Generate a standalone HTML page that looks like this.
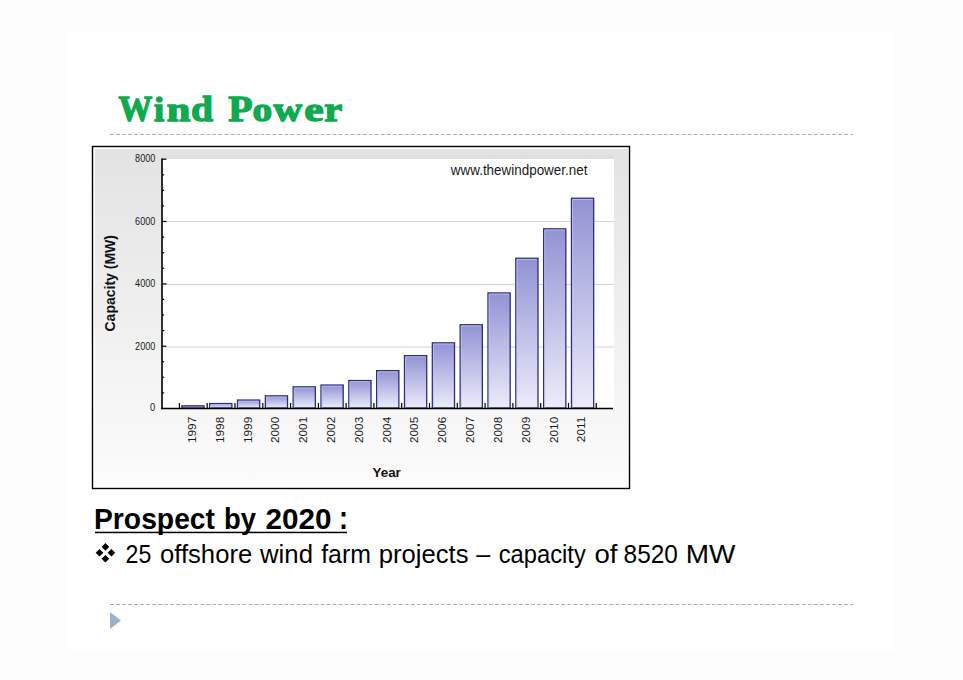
<!DOCTYPE html>
<html><head><meta charset="utf-8">
<style>
html,body{margin:0;padding:0}
body{width:963px;height:680px;background:#fdfdfd;position:relative;overflow:hidden;font-family:"Liberation Sans",sans-serif}
#slide{position:absolute;left:68px;top:31px;width:826px;height:620px;background:#fff}
svg{position:absolute;left:0;top:0}
</style></head>
<body>
<div id="slide"></div>
<svg width="963" height="680" viewBox="0 0 963 680">
<defs>
<linearGradient id="bg" x1="0" y1="0" x2="0" y2="1">
<stop offset="0" stop-color="#e3e3e3"/>
<stop offset="1" stop-color="#fcfcfc"/>
</linearGradient>
<linearGradient id="bar" x1="0" y1="0" x2="0" y2="1">
<stop offset="0" stop-color="#9292d4"/>
<stop offset="1" stop-color="#ececfb"/>
</linearGradient>
</defs>
<!-- title -->
<g font-family="Liberation Serif" font-weight="bold" font-size="36.5" fill="#0fa94f" stroke="#0fa94f" stroke-width="1.3">
<text x="118.4" y="121" font-size="36.5" textLength="33.8" lengthAdjust="spacingAndGlyphs">W</text>
<text x="153.9" y="121" font-size="34" textLength="10.2" lengthAdjust="spacingAndGlyphs">i</text>
<text x="166.7" y="121" font-size="34" textLength="23.6" lengthAdjust="spacingAndGlyphs">n</text>
<text x="191.0" y="121" font-size="36.5" textLength="22.1" lengthAdjust="spacingAndGlyphs">d</text>
<text x="228.3" y="121" font-size="36.5" textLength="24.3" lengthAdjust="spacingAndGlyphs">P</text>
<text x="252.5" y="121" font-size="34" textLength="19.7" lengthAdjust="spacingAndGlyphs">o</text>
<text x="273.6" y="121" font-size="34" textLength="28.7" lengthAdjust="spacingAndGlyphs">w</text>
<text x="304.2" y="121" font-size="34" textLength="19.4" lengthAdjust="spacingAndGlyphs">e</text>
<text x="324.2" y="121" font-size="34" textLength="18.0" lengthAdjust="spacingAndGlyphs">r</text>
</g>
<line x1="110" y1="134.5" x2="853" y2="134.5" stroke="#a5b1c4" stroke-width="1" stroke-dasharray="4 2.016"/>

<!-- chart -->
<rect x="92.5" y="146.5" width="537" height="342" fill="#fff" stroke="#000" stroke-width="1.4"/>
<rect x="95" y="149" width="533" height="338" fill="url(#bg)"/>
<rect x="163" y="155" width="451" height="4" fill="#d9d9d9" opacity="0.5"/>
<rect x="163" y="159" width="451" height="249" fill="#fff"/>
<g stroke="#d2d2d2" stroke-width="1">
<line x1="163" y1="221.5" x2="614" y2="221.5"/>
<line x1="163" y1="284.5" x2="614" y2="284.5"/>
<line x1="163" y1="347" x2="614" y2="347"/>
</g>
<g fill="url(#bar)" stroke="#2e2e78" stroke-width="1.3">
<rect x="181.85" y="405.85" width="22.2" height="2.15"/>
<rect x="209.68" y="403.55" width="22.2" height="4.45"/>
<rect x="237.51" y="400.05" width="22.2" height="7.95"/>
<rect x="265.34" y="395.85" width="22.2" height="12.15"/>
<rect x="293.17" y="386.85" width="22.2" height="21.15"/>
<rect x="321.00" y="385.05" width="22.2" height="22.95"/>
<rect x="348.83" y="380.55" width="22.2" height="27.45"/>
<rect x="376.66" y="370.65" width="22.2" height="37.35"/>
<rect x="404.49" y="355.65" width="22.2" height="52.35"/>
<rect x="432.32" y="342.85" width="22.2" height="65.15"/>
<rect x="460.15" y="324.75" width="22.2" height="83.25"/>
<rect x="487.98" y="292.95" width="22.2" height="115.05"/>
<rect x="515.81" y="258.25" width="22.2" height="149.75"/>
<rect x="543.64" y="228.85" width="22.2" height="179.15"/>
<rect x="571.47" y="198.25" width="22.2" height="209.75"/>
</g>
<g fill="none" stroke="#c4c4f4" stroke-width="1" opacity="0.8">
<path d="M210.83 408 V404.70 H230.73"/>
<path d="M238.66 408 V401.20 H258.56"/>
<path d="M266.49 408 V397.00 H286.39"/>
<path d="M294.32 408 V388.00 H314.22"/>
<path d="M322.15 408 V386.20 H342.05"/>
<path d="M349.98 408 V381.70 H369.88"/>
<path d="M377.81 408 V371.80 H397.71"/>
<path d="M405.64 408 V356.80 H425.54"/>
<path d="M433.47 408 V344.00 H453.37"/>
<path d="M461.30 408 V325.90 H481.20"/>
<path d="M489.13 408 V294.10 H509.03"/>
<path d="M516.96 408 V259.40 H536.86"/>
<path d="M544.79 408 V230.00 H564.69"/>
<path d="M572.62 408 V199.40 H592.52"/>
</g>
<g stroke="#000" stroke-width="1.6" fill="none">
<line x1="162" y1="158.6" x2="162" y2="409.3"/>
<line x1="161.2" y1="408.5" x2="613" y2="408.5"/>
</g>
<g stroke="#000" stroke-width="1.2">
<line x1="162" y1="392.9" x2="164.2" y2="392.9"/>
<line x1="162" y1="377.3" x2="164.2" y2="377.3"/>
<line x1="162" y1="361.8" x2="164.2" y2="361.8"/>
<line x1="162" y1="346.2" x2="166.5" y2="346.2"/>
<line x1="162" y1="330.6" x2="164.2" y2="330.6"/>
<line x1="162" y1="315.0" x2="164.2" y2="315.0"/>
<line x1="162" y1="299.4" x2="164.2" y2="299.4"/>
<line x1="162" y1="283.9" x2="166.5" y2="283.9"/>
<line x1="162" y1="268.3" x2="164.2" y2="268.3"/>
<line x1="162" y1="252.7" x2="164.2" y2="252.7"/>
<line x1="162" y1="237.1" x2="164.2" y2="237.1"/>
<line x1="162" y1="221.5" x2="166.5" y2="221.5"/>
<line x1="162" y1="205.9" x2="164.2" y2="205.9"/>
<line x1="162" y1="190.4" x2="164.2" y2="190.4"/>
<line x1="162" y1="174.8" x2="164.2" y2="174.8"/>
<line x1="162" y1="159.2" x2="166.5" y2="159.2"/>
<line x1="179.4" y1="403" x2="179.4" y2="408"/>
<line x1="207.2" y1="403" x2="207.2" y2="408"/>
<line x1="235.0" y1="403" x2="235.0" y2="408"/>
<line x1="262.8" y1="403" x2="262.8" y2="408"/>
<line x1="290.6" y1="403" x2="290.6" y2="408"/>
<line x1="318.4" y1="403" x2="318.4" y2="408"/>
<line x1="346.1" y1="403" x2="346.1" y2="408"/>
<line x1="373.9" y1="403" x2="373.9" y2="408"/>
<line x1="401.7" y1="403" x2="401.7" y2="408"/>
<line x1="429.5" y1="403" x2="429.5" y2="408"/>
<line x1="457.3" y1="403" x2="457.3" y2="408"/>
<line x1="485.1" y1="403" x2="485.1" y2="408"/>
<line x1="512.9" y1="403" x2="512.9" y2="408"/>
<line x1="540.7" y1="403" x2="540.7" y2="408"/>
<line x1="568.5" y1="403" x2="568.5" y2="408"/>
<line x1="596.2" y1="403" x2="596.2" y2="408"/>
</g>
<g font-family="Liberation Sans" font-size="10" fill="#1a1a1a" text-anchor="end">
<text x="155.3" y="162.1" textLength="20.2" lengthAdjust="spacingAndGlyphs">8000</text>
<text x="155.3" y="224.5" textLength="20.2" lengthAdjust="spacingAndGlyphs">6000</text>
<text x="155.3" y="287.0" textLength="20.2" lengthAdjust="spacingAndGlyphs">4000</text>
<text x="155.3" y="349.5" textLength="20.2" lengthAdjust="spacingAndGlyphs">2000</text>
<text x="155.3" y="411.4" textLength="5.2" lengthAdjust="spacingAndGlyphs">0</text>
</g>
<text x="0" y="0" font-family="Liberation Sans" font-weight="bold" font-size="14" fill="#111" transform="translate(115 331.5) rotate(-90)">Capacity (MW)</text>
<text x="450.8" y="174.6" font-family="Liberation Sans" font-size="14" fill="#1a1a1a" textLength="136.6" lengthAdjust="spacingAndGlyphs">www.thewindpower.net</text>
<text x="372.5" y="477" font-family="Liberation Sans" font-weight="bold" font-size="13.4" fill="#111">Year</text>
<g font-family="Liberation Sans" font-size="11.8" fill="#1a1a1a" text-anchor="end">
<text transform="translate(195.8 416.8) rotate(-90)">1997</text>
<text transform="translate(223.6 416.8) rotate(-90)">1998</text>
<text transform="translate(251.5 416.8) rotate(-90)">1999</text>
<text transform="translate(279.3 416.8) rotate(-90)">2000</text>
<text transform="translate(307.1 416.8) rotate(-90)">2001</text>
<text transform="translate(334.9 416.8) rotate(-90)">2002</text>
<text transform="translate(362.8 416.8) rotate(-90)">2003</text>
<text transform="translate(390.6 416.8) rotate(-90)">2004</text>
<text transform="translate(418.4 416.8) rotate(-90)">2005</text>
<text transform="translate(446.3 416.8) rotate(-90)">2006</text>
<text transform="translate(474.1 416.8) rotate(-90)">2007</text>
<text transform="translate(501.9 416.8) rotate(-90)">2008</text>
<text transform="translate(529.8 416.8) rotate(-90)">2009</text>
<text transform="translate(557.6 416.8) rotate(-90)">2010</text>
<text transform="translate(585.4 416.8) rotate(-90)">2011</text>
</g>
<!-- /chart -->

<!-- prospect -->
<g font-family="Liberation Sans" font-weight="bold" font-size="29.5" fill="#000">
<text x="94" y="529" textLength="121" lengthAdjust="spacingAndGlyphs">Prospect</text>
<text x="224" y="529" textLength="32" lengthAdjust="spacingAndGlyphs">by</text>
<text x="265.5" y="529" textLength="66" lengthAdjust="spacingAndGlyphs">2020</text>
<text x="339" y="529" font-size="33" textLength="9" lengthAdjust="spacingAndGlyphs">:</text>
</g>
<rect x="95" y="531.7" width="252" height="1.5" fill="#000"/>
<g fill="#000">
<path d="M105.4 543.1 L109.2 546.9 L105.4 550.6999999999999 L101.60000000000001 546.9Z"/>
<path d="M99.5 549.0 L103.3 552.8 L99.5 556.5999999999999 L95.7 552.8Z"/>
<path d="M111.4 549.0 L115.2 552.8 L111.4 556.5999999999999 L107.60000000000001 552.8Z"/>
<path d="M105.4 554.9000000000001 L109.2 558.7 L105.4 562.5 L101.60000000000001 558.7Z"/>
</g>
<g font-family="Liberation Sans" font-size="25" fill="#000">
<text x="125.6" y="562.5" textLength="25.7" lengthAdjust="spacingAndGlyphs">25</text>
<text x="160.0" y="562.5" textLength="92.2" lengthAdjust="spacingAndGlyphs">offshore</text>
<text x="260.0" y="562.5" textLength="53.0" lengthAdjust="spacingAndGlyphs">wind</text>
<text x="321.2" y="562.5" textLength="49.7" lengthAdjust="spacingAndGlyphs">farm</text>
<text x="378.7" y="562.5" textLength="89.8" lengthAdjust="spacingAndGlyphs">projects</text>
<text x="476.3" y="562.5" textLength="14.0" lengthAdjust="spacingAndGlyphs">–</text>
<text x="498.7" y="562.5" textLength="87.1" lengthAdjust="spacingAndGlyphs">capacity</text>
<text x="594.4" y="562.5" textLength="23.0" lengthAdjust="spacingAndGlyphs">of</text>
<text x="623.6" y="562.5" textLength="54.3" lengthAdjust="spacingAndGlyphs">8520</text>
<text x="685.8" y="562.5" textLength="49.7" lengthAdjust="spacingAndGlyphs">MW</text>
</g>

<line x1="110" y1="604.5" x2="853" y2="604.5" stroke="#a5b1c4" stroke-width="1" stroke-dasharray="4 2.016"/>
<path d="M110 612 L121 620.5 L110 629Z" fill="#9bb2cc"/>
</svg>
</body></html>
